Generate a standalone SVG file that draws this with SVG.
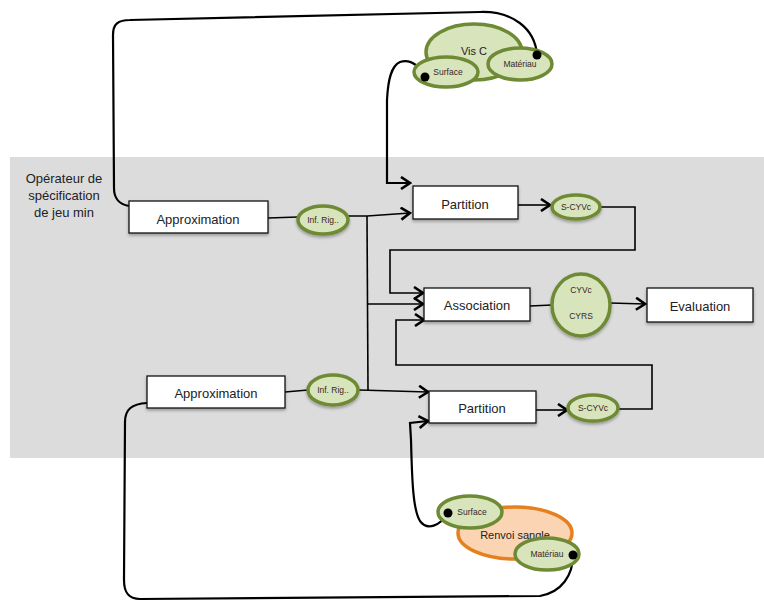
<svg xmlns="http://www.w3.org/2000/svg" width="764" height="604" viewBox="0 0 764 604">
<style>
.box{fill:#fff;stroke:#111;stroke-width:1.3}
.g{fill:#d8e4bc;stroke:#6e8a34;stroke-width:3.5}
.o{fill:#fad4b3;stroke:#e6801e;stroke-width:3.5}
.t{font-family:"Liberation Sans",Arial,sans-serif;font-size:13px;fill:#222;text-anchor:middle}
.s{font-family:"Liberation Sans",Arial,sans-serif;font-size:8.5px;fill:#3a2626;text-anchor:middle}
.m{font-family:"Liberation Sans",Arial,sans-serif;font-size:11px;fill:#222;text-anchor:middle}
.c{fill:none;stroke:#000;stroke-width:1.6}
.cc{fill:none;stroke:#000;stroke-width:2.2}
</style>
<defs>
<filter id="sh" x="-20%" y="-20%" width="140%" height="150%">
<feDropShadow dx="0" dy="2" stdDeviation="1.5" flood-color="#000" flood-opacity="0.3"/>
</filter>
<marker id="a" markerUnits="userSpaceOnUse" markerWidth="14" markerHeight="14" viewBox="0 0 14 14" refX="12" refY="7" orient="auto">
<path d="M3,1 L12,7 L3,13" fill="none" stroke="#000" stroke-width="2.6"/>
</marker>
</defs>
<rect x="10" y="157" width="754" height="301" fill="#dcdcdc"/>
<text class="t"><tspan x="64" y="183">Opérateur de</tspan><tspan x="64" y="200">spécification</tspan><tspan x="64" y="217">de jeu min</tspan></text>

<g id="connectors">
<path class="cc" d="M129,206 C119,204 114,199 114,188 L113,35 C113,24 118,20 130,20 L480,12 C512,11 535,28 537,55"/>
<path class="cc" d="M425,77 C418,64 410,59 400,62 C391,66 388,80 387,100 L387,183 L410,183" marker-end="url(#a)"/>
<path class="cc" d="M448,513 C440,526 427,531 420,521 C413,510 412,480 411,440 L410,423 L428,421" marker-end="url(#a)"/>
<path class="cc" d="M573,555 C573,575 562,592 540,596 L140,599 C128,599 124,592 124,580 L125,422 C125,409 132,404 147,403"/>
<path class="c" d="M268,218 L298,217"/>
<path class="c" d="M348,216 L367,216 L410,213" marker-end="url(#a)"/>
<path class="c" d="M367,216 L368,390"/>
<path class="c" d="M367,304 L423,304" marker-end="url(#a)"/>
<path class="c" d="M285,392 L308,390"/>
<path class="c" d="M359,390 L428,392" marker-end="url(#a)"/>
<path class="c" d="M518,205 L550,205" marker-end="url(#a)"/>
<path class="c" d="M600,207 L635,207 L635,250 L390,250 L390,293 L423,293" marker-end="url(#a)"/>
<path class="c" d="M618,409 L652,409 L652,365 L396,365 L396,320 L424,320" marker-end="url(#a)"/>
<path class="c" d="M536,410 L567,410" marker-end="url(#a)"/>
<path class="c" d="M530,306 L552,305"/>
<path class="c" d="M610,303 L645,304" marker-end="url(#a)"/>
</g>

<g id="visc">
<ellipse class="g" cx="474" cy="52" rx="48" ry="28"/>
<text class="m" x="474" y="55">Vis C</text>
</g>
<g id="surface-top">
<ellipse class="g" cx="446" cy="72" rx="32" ry="15"/>
<text class="s" x="448" y="75">Surface</text>
</g>
<g id="materiau-top">
<ellipse class="g" cx="520" cy="64" rx="32" ry="16"/>
<text class="s" x="520" y="67">Matériau</text>
</g>

<g id="approx1">
<rect class="box" x="129" y="201" width="139" height="32" filter="url(#sh)"/>
<text class="t" x="198" y="224">Approximation</text>
</g>
<g id="infrig1">
<ellipse class="g" cx="323" cy="220" rx="25" ry="14" filter="url(#sh)"/>
<text class="s" x="323" y="223">Inf. Rig..</text>
</g>
<g id="partition1">
<rect class="box" x="413" y="186" width="105" height="33" filter="url(#sh)"/>
<text class="t" x="465" y="209">Partition</text>
</g>
<g id="scyvc1">
<ellipse class="g" cx="576" cy="207" rx="24" ry="12" filter="url(#sh)"/>
<text class="s" x="576" y="210">S-CYVc</text>
</g>
<g id="association">
<rect class="box" x="424" y="288" width="106" height="33" filter="url(#sh)"/>
<text class="t" x="477" y="310">Association</text>
</g>
<g id="cyvc">
<ellipse class="g" cx="581" cy="305" rx="29" ry="31" filter="url(#sh)"/>
<text class="s" x="581" y="293">CYVc</text>
<text class="s" x="581" y="319">CYRS</text>
</g>
<g id="evaluation">
<rect class="box" x="647" y="288" width="106" height="34" filter="url(#sh)"/>
<text class="t" x="700" y="311">Evaluation</text>
</g>
<g id="approx2">
<rect class="box" x="147" y="376" width="138" height="32" filter="url(#sh)"/>
<text class="t" x="216" y="398">Approximation</text>
</g>
<g id="infrig2">
<ellipse class="g" cx="333" cy="390" rx="25" ry="15" filter="url(#sh)"/>
<text class="s" x="333" y="393">Inf. Rig..</text>
</g>
<g id="partition2">
<rect class="box" x="429" y="391" width="107" height="32" filter="url(#sh)"/>
<text class="t" x="482" y="413">Partition</text>
</g>
<g id="scyvc2">
<ellipse class="g" cx="593" cy="408" rx="25" ry="13" filter="url(#sh)"/>
<text class="s" x="593" y="411">S-CYVc</text>
</g>

<g id="renvoi">
<ellipse class="o" cx="515" cy="533" rx="57" ry="26"/>
<text class="m" x="515" y="538.5">Renvoi sangle</text>
</g>
<g id="surface-bot">
<ellipse class="g" cx="470" cy="512" rx="32" ry="16"/>
<text class="s" x="472" y="515">Surface</text>
</g>
<g id="materiau-bot">
<ellipse class="g" cx="547" cy="554" rx="32" ry="16"/>
<text class="s" x="547" y="557">Matériau</text>
</g>

<g id="dots">
<circle cx="537" cy="55" r="4.5" fill="#000"/>
<circle cx="425" cy="77" r="4.5" fill="#000"/>
<circle cx="448" cy="513" r="4.5" fill="#000"/>
<circle cx="573" cy="555" r="4.5" fill="#000"/>
</g>
</svg>
